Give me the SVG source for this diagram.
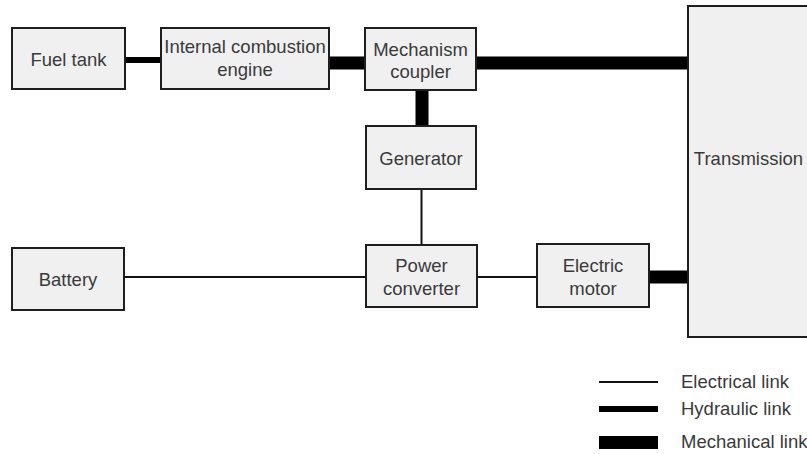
<svg xmlns="http://www.w3.org/2000/svg" width="807" height="454" viewBox="0 0 807 454">
<style>
.box{fill:#f0f0f0;stroke:#1e1e1e;stroke-width:2}
.t{font-family:"Liberation Sans",Arial,sans-serif;font-size:18.5px;fill:#3a3a3a;text-anchor:middle}
.lt{font-family:"Liberation Sans",Arial,sans-serif;font-size:18.5px;fill:#3a3a3a}
.el{stroke:#111;stroke-width:2;fill:none}
.hy{stroke:#000;stroke-width:6;fill:none}
.me{stroke:#000;stroke-width:13;fill:none}
</style>
<rect width="807" height="454" fill="#fff"/>
<g id="connectors">
<line class="hy" x1="125" y1="60" x2="161" y2="60"/>
<line class="me" x1="329" y1="63" x2="365" y2="63"/>
<line class="me" x1="476" y1="63" x2="688" y2="63"/>
<line class="me" x1="422" y1="90" x2="422" y2="126"/>
<line class="el" x1="421.5" y1="189" x2="421.5" y2="245"/>
<line class="el" x1="125" y1="277" x2="366" y2="277"/>
<line class="el" x1="477" y1="277" x2="537" y2="277"/>
<line class="me" x1="649" y1="277" x2="688" y2="277"/>
</g>
<g id="fuel-tank"><rect class="box" x="12" y="28" width="113" height="61"/><text class="t" x="68.5" y="66">Fuel tank</text></g>
<g id="ice"><rect class="box" x="161" y="28" width="168" height="61"/><text class="t" x="245" y="53">Internal combustion</text><text class="t" x="245" y="76">engine</text></g>
<g id="coupler"><rect class="box" x="365" y="28" width="111" height="62"/><text class="t" x="420.5" y="56">Mechanism</text><text class="t" x="420.5" y="78">coupler</text></g>
<g id="generator"><rect class="box" x="366" y="126" width="110" height="63"/><text class="t" x="421" y="165">Generator</text></g>
<g id="transmission"><rect class="box" x="688" y="6" width="120" height="331"/><text class="t" x="748.5" y="165">Transmission</text></g>
<g id="battery"><rect class="box" x="12" y="248" width="112" height="62"/><text class="t" x="68" y="286">Battery</text></g>
<g id="power-converter"><rect class="box" x="366" y="245" width="111" height="62"/><text class="t" x="421.5" y="272">Power</text><text class="t" x="421.5" y="295">converter</text></g>
<g id="electric-motor"><rect class="box" x="537" y="244" width="112" height="63"/><text class="t" x="593" y="272">Electric</text><text class="t" x="593" y="295">motor</text></g>
<g id="legend">
<line class="el" x1="599" y1="382" x2="658" y2="382"/>
<line class="hy" x1="599" y1="409" x2="658" y2="409"/>
<line class="me" x1="599" y1="442.5" x2="658" y2="442.5"/>
<text class="lt" x="681" y="388">Electrical link</text>
<text class="lt" x="681" y="415">Hydraulic link</text>
<text class="lt" x="681" y="448">Mechanical link</text>
</g>
</svg>
